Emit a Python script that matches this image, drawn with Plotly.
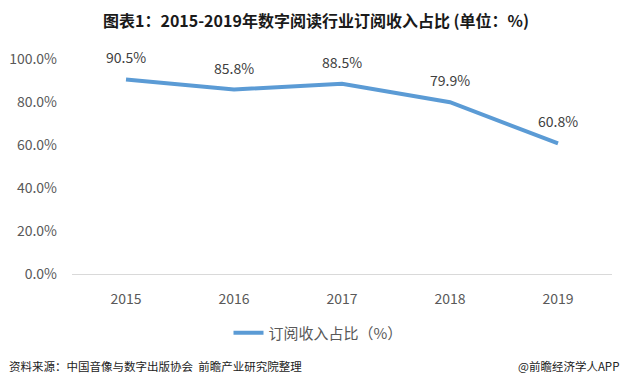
import plotly.graph_objects as go

years = ["2015", "2016", "2017", "2018", "2019"]
values = [90.5, 85.8, 88.5, 79.9, 60.8]
y_ticks = [0, 20, 40, 60, 80, 100]
y_tick_labels = ["0.0%", "20.0%", "40.0%", "60.0%", "80.0%", "100.0%"]

FONT = "Noto Sans CJK SC"
W, H = 625, 387
L, R, T, B = 72, 13, 59, 113
PW, PH = W - L - R, H - T - B


def px(x):
    return (x - L) / PW


def py(y):
    return (H - B - y) / PH


fig = go.Figure()
fig.add_trace(go.Scatter(
    x=years, y=values, mode="lines", name="订阅收入占比（%）",
    line=dict(color="#5B9BD5", width=4), hoverinfo="skip",
))

for i, v in enumerate(values):
    fig.add_annotation(x=i, y=v, text=f"{v:.1f}%", showarrow=False,
                       yshift=22, font=dict(family=FONT, size=14, color="#404040"))

fig.add_annotation(xref="paper", yref="paper", x=px(316), y=py(20),
                   text="<b>图表1：2015-2019年数字阅读行业订阅收入占比 (单位：%)</b>",
                   showarrow=False, xanchor="center", yanchor="middle",
                   font=dict(family=FONT, size=16, color="#1a1a1a"))
fig.add_annotation(xref="paper", yref="paper", x=px(7), y=py(366),
                   text="资料来源：中国音像与数字出版协会  前瞻产业研究院整理",
                   showarrow=False, xanchor="left", yanchor="middle",
                   font=dict(family=FONT, size=11.5, color="#222222"))
fig.add_annotation(xref="paper", yref="paper", x=px(621), y=py(366),
                   text="@前瞻经济学人APP",
                   showarrow=False, xanchor="right", yanchor="middle",
                   font=dict(family=FONT, size=11.5, color="#222222"))

fig.update_layout(
    width=W, height=H,
    margin=dict(l=L, r=R, t=T, b=B, autoexpand=False),
    paper_bgcolor="white", plot_bgcolor="white",
    showlegend=True,
    legend=dict(orientation="h", x=px(318), xanchor="center",
                y=py(333), yanchor="middle",
                font=dict(family=FONT, size=15, color="#595959"),
                bgcolor="rgba(0,0,0,0)"),
    font=dict(family=FONT),
)
fig.update_xaxes(type="category", range=[-0.5, len(years) - 0.5], showgrid=False, showline=True,
                 linecolor="#D9D9D9", linewidth=1,
                 ticks="", tickfont=dict(family=FONT, size=14, color="#595959"),
                 ticklabelstandoff=12, zeroline=False, fixedrange=True)
fig.update_yaxes(range=[0, 100], tickvals=y_ticks, ticktext=y_tick_labels, showgrid=False,
                 showline=False, zeroline=False, ticks="",
                 tickfont=dict(family=FONT, size=14, color="#595959"),
                 ticklabelstandoff=14, fixedrange=True)

fig.write_html("out.html", config={"displayModeBar": False},
               post_script="document.body.style.margin='0';document.body.style.overflow='hidden';")
